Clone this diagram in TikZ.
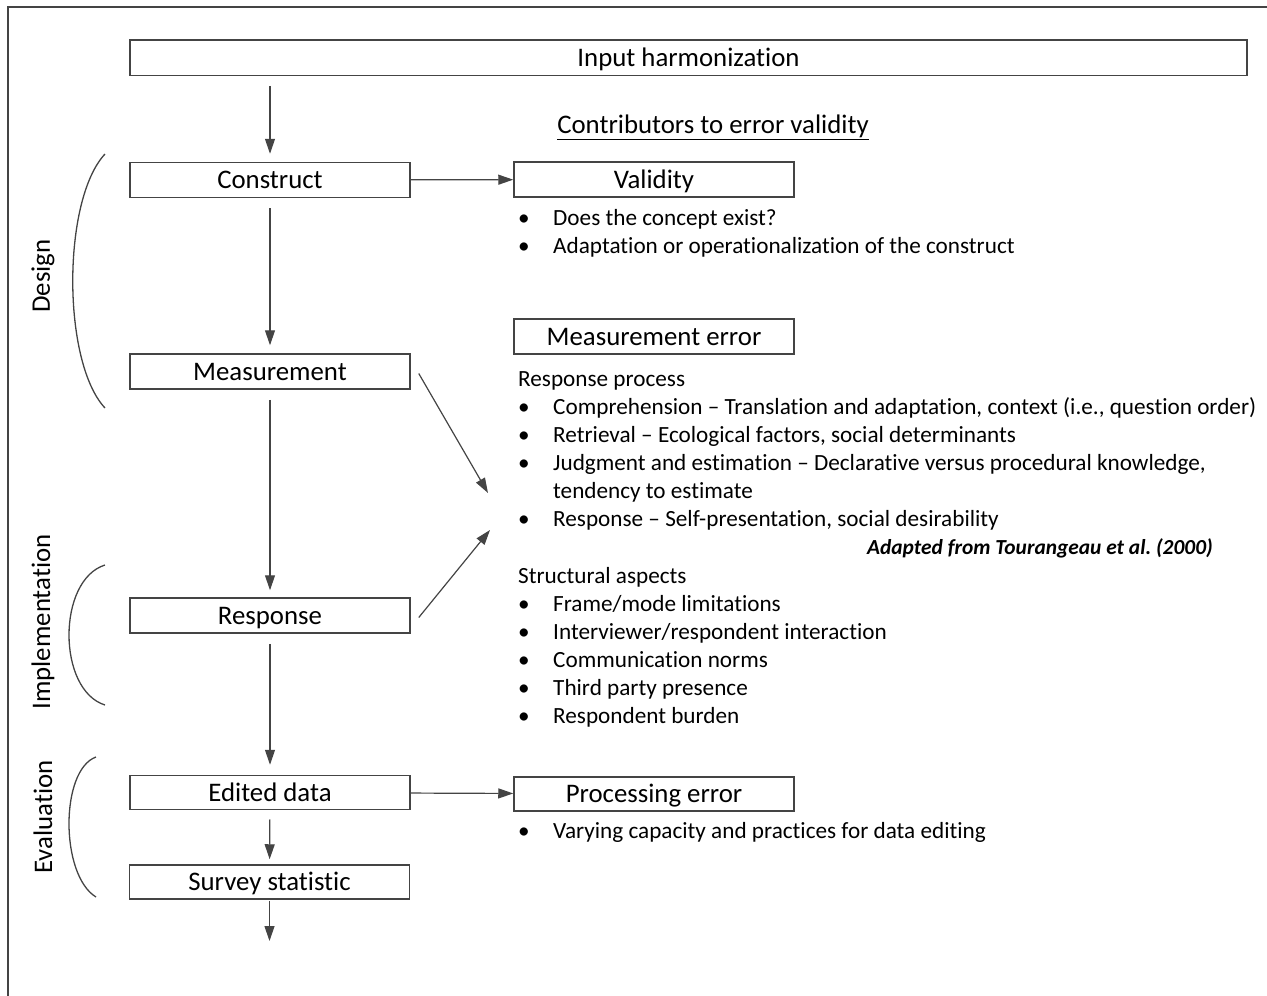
\documentclass[tikz,border=0pt]{standalone}
\usepackage{fontspec}
\setmainfont{Carlito}[RawFeature=-liga]
\usetikzlibrary{arrows.meta}
\definecolor{ln}{HTML}{444444}
\definecolor{tx}{HTML}{000000}
\newcommand{\boxfont}{\fontsize{26.8}{30}\selectfont}
\newcommand{\listfont}{\fontsize{23.2}{26}\selectfont}
\newcommand{\srcfont}{\fontsize{21.4}{24}\selectfont}
\begin{document}
\begin{tikzpicture}[x=1pt,y=-1pt,
  box/.style={draw=ln, line width=1.5pt, minimum height=35pt, minimum width=280pt,
    inner sep=0pt, font=\boxfont, text=tx, text height=19pt, text depth=2pt},
  flow/.style={draw=ln, line width=1.2pt, -{Triangle[length=15pt,width=10pt]}},
  item/.style={anchor=base west, inner sep=0pt, font=\listfont, text=tx},
  bul/.style={anchor=base, inner sep=0pt, font=\listfont, text=tx},
  phase/.style={rotate=90, inner sep=0pt, font=\boxfont, text=tx},
  arcline/.style={draw=ln, line width=1.3pt}
]
\useasboundingbox (0,0) rectangle (1267,996);
% frame
\draw[ln, line width=1.5pt] (8,996) -- (8,7) -- (1267,7);

% main column
\node[box, minimum width=1117pt, minimum height=35.5pt] (inp) at (688.5,57.75) {Input harmonization};
\node[box] (cons) at (270,180) {Construct};
\node[box] (meas) at (270,371.5) {Measurement};
\node[box] (resp) at (270,615.5) {Response};
\node[box, minimum height=34pt] (edit) at (270,792.5) {Edited data};
\node[box, minimum height=34pt] (surv) at (269.5,882) {Survey statistic};
\coordinate (out) at (269.5,941);

\draw[flow, shorten <=9.5pt, shorten >=8pt] (inp.south -| cons.north) -- (cons.north);
\draw[flow, shorten <=10pt, shorten >=8pt] (cons) -- (meas);
\draw[flow, shorten <=10pt, shorten >=7pt] (meas) -- (resp);
\draw[flow, shorten <=10pt, shorten >=10pt] (resp) -- (edit);
\draw[flow, shorten <=9pt, shorten >=5pt] (edit) -- (surv);
\draw[flow, shorten <=1pt] (surv) -- (out);

% phases
\draw[arcline] (105,154) .. controls (62,200) and (62,362) .. (105,408);
\draw[arcline] (105,565) .. controls (57,580) and (57,690) .. (105,705);
\draw[arcline] (96,757) .. controls (60,770) and (60,875) .. (96,897);
\node[phase] (design) at (43,276) {Design};
\node[phase] (impl) at (43,622) {Implementation};
\node[phase] (eval) at (43,817) {Evaluation};

% right side
\node[anchor=base, inner sep=0pt, font=\boxfont, text=tx] (title) at (713,133) {\underline{Contributors to error validity}};

\node[box] (valid) at (654,179.5) {Validity};
\draw[flow] (cons) -- (valid);
\node[bul] (vb1) at (524,225) {•};
\node[item] (v1) at (553,225) {Does the concept exist?};
\node[bul] (vb2) at (524,253) {•};
\node[item] (v2) at (553,253) {Adaptation or operationalization of the construct};

\node[box] (merr) at (654,336.5) {Measurement error};
\node[item] (rp) at (518,386) {Response process};
\node[bul] (mb1) at (524,414) {•};
\node[item] (m1) at (553,414) {Comprehension – Translation and adaptation, context (i.e., question order)};
\node[bul] (mb2) at (524,442) {•};
\node[item] (m2) at (553,442) {Retrieval – Ecological factors, social determinants};
\node[bul] (mb3) at (524,470) {•};
\node[item] (m3) at (553,470) {Judgment and estimation – Declarative versus procedural knowledge,};
\node[item] (m3b) at (553,498) {tendency to estimate};
\node[bul] (mb4) at (524,526) {•};
\node[item] (m4) at (553,526) {Response – Self-presentation, social desirability};
\node[anchor=base east, inner sep=0pt, font=\srcfont\bfseries\itshape, text=tx] (src) at (1213,554) {Adapted from Tourangeau et al.\ (2000)};
\node[item] (sa) at (518,583) {Structural aspects};
\node[bul] (sb1) at (524,611) {•};
\node[item] (s1) at (553,611) {Frame/mode limitations};
\node[bul] (sb2) at (524,639) {•};
\node[item] (s2) at (553,639) {Interviewer/respondent interaction};
\node[bul] (sb3) at (524,667) {•};
\node[item] (s3) at (553,667) {Communication norms};
\node[bul] (sb4) at (524,695) {•};
\node[item] (s4) at (553,695) {Third party presence};
\node[bul] (sb5) at (524,723) {•};
\node[item] (s5) at (553,723) {Respondent burden};

\coordinate (mt1) at (488,493);
\coordinate (mt2) at (490,530);
\draw[flow] ([shift={(8,2)}]meas.east) -- (mt1);
\draw[flow] ([shift={(8,2)}]resp.east) -- (mt2);

\node[box, minimum height=34pt] (perr) at (654,794) {Processing error};
\draw[flow] (edit) -- (perr);
\node[bul] (pb1) at (524,838) {•};
\node[item] (p1) at (553,838) {Varying capacity and practices for data editing};
\end{tikzpicture}
\end{document}
